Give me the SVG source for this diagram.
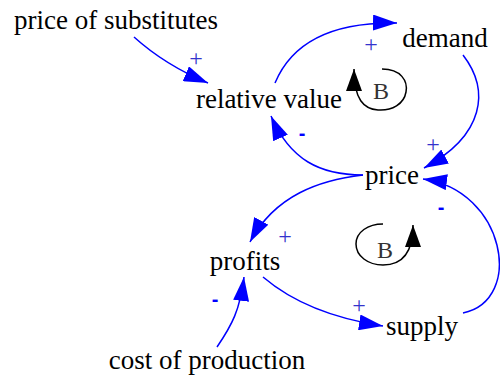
<svg xmlns="http://www.w3.org/2000/svg" width="500" height="376" viewBox="0 0 500 376">
<style>
.node{font-family:"Liberation Serif","Times New Roman",serif;font-size:27px;fill:#000;text-anchor:middle}
.link{fill:none;stroke:#0000ff;stroke-width:1.5;marker-end:url(#ah)}
.loop{fill:none;stroke:#000;stroke-width:1.5;marker-end:url(#lh)}
.plus{font-family:"Liberation Serif",serif;font-size:24px;fill:#3333cc;text-anchor:middle}
.minus{font-family:"Liberation Sans",Arial,sans-serif;font-size:20px;font-weight:bold;fill:#0000ff;text-anchor:middle}
.lbl{font-family:"Liberation Serif",serif;font-size:24px;fill:#333;text-anchor:middle}
</style>
<defs>
<marker id="ah" viewBox="0 0 24 16" refX="24" refY="8" markerWidth="24" markerHeight="16" markerUnits="userSpaceOnUse" orient="auto">
<path d="M0,0 L24,8 L0,16 z" fill="#0000ff"/>
</marker>
<marker id="lh" viewBox="0 0 22 16" refX="22" refY="8" markerWidth="22" markerHeight="16" markerUnits="userSpaceOnUse" orient="auto">
<path d="M0,0 L22,8 L0,16 z" fill="#000"/>
</marker>
</defs>
<g id="connectors">
<path class="link" d="M134,37 Q165,65 208,83"/>
<path class="link" d="M275,83 C295,35 345,22 397,23"/>
<path class="link" d="M463,55 C490,90 485,135 424,168"/>
<path class="link" d="M363,175 C320,175 290,160 271,116"/>
<path class="link" d="M363,175 C320,180 275,195 250,242"/>
<path class="link" d="M463,313 C525,300 505,190 423,179"/>
<path class="link" d="M263,277 C290,300 330,318 383,326"/>
<path class="link" d="M217,347 C232,325 240,310 244,277"/>
</g>
<g id="link-labels">
<text class="plus" x="196" y="66">+</text>
<text class="plus" x="371" y="52">+</text>
<text class="plus" x="433" y="152">+</text>
<text class="minus" x="302" y="140">-</text>
<text class="plus" x="285" y="244">+</text>
<text class="minus" x="441" y="214">-</text>
<text class="plus" x="359" y="313">+</text>
<text class="minus" x="215" y="306">-</text>
</g>
<g id="loop-upper">
<path class="loop" d="M382,69 C401,69 408,81 406,92 C404,104 392,111 378,110 C364,109 354,100 354,69"/>
<text class="lbl" x="381" y="99">B</text>
</g>
<g id="loop-lower">
<path class="loop" d="M383,224 C368,224 356,232 356,244 C356,256 368,265 383,265 C398,265 413,258 413,225"/>
<text class="lbl" x="385" y="258">B</text>
</g>
<g id="price-of-substitutes"><text class="node" x="116" y="29">price of substitutes</text></g>
<g id="relative-value"><text class="node" x="269" y="108">relative value</text></g>
<g id="demand"><text class="node" x="445" y="47">demand</text></g>
<g id="price"><text class="node" x="392" y="184">price</text></g>
<g id="profits"><text class="node" x="245" y="270">profits</text></g>
<g id="supply"><text class="node" x="422" y="335">supply</text></g>
<g id="cost-of-production"><text class="node" x="207" y="369">cost of production</text></g>
</svg>
